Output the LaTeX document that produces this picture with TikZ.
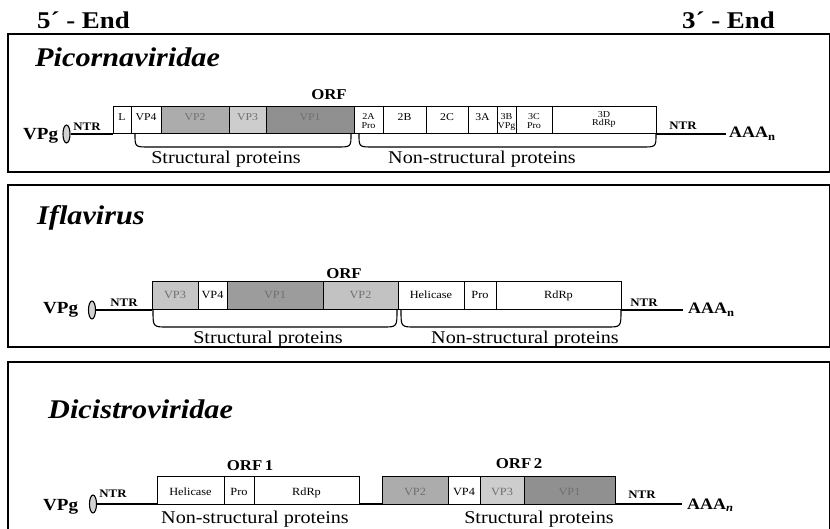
\documentclass[tikz,border=0pt]{standalone}
\usepackage{fontspec}
\setmainfont{Liberation Serif}[FakeStretch=1.12]
\usetikzlibrary{shapes.geometric}
\definecolor{gmed}{HTML}{ACACAC}
\definecolor{glight}{HTML}{CDCDCD}
\definecolor{gdark}{HTML}{909090}
\definecolor{ifa}{HTML}{C6C6C6}
\definecolor{ifb}{HTML}{9C9C9C}
\definecolor{ifc}{HTML}{C2C2C2}
\definecolor{faint}{HTML}{707070}
\newcommand\fs[1]{\fontsize{#1}{#1}\selectfont}
\newcommand\seg[6]{\node[segbox,fill=#6,minimum width={(#3-#2)*1pt},minimum height={(#5-#4)*1pt}] (#1) at ({(#2+#3)/2},{(#4+#5)/2}) {};}
\newcommand\lab[4]{\path (#1.north) ++(0,#2) node[#3,anchor=base] {#4};}
\newcommand\brc[4]{\draw[bracestyle] (#1,#3) .. controls (#1,#4) and (#1,#4) .. (#1+14,#4) -- (#2-14,#4) .. controls (#2,#4) and (#2,#4) .. (#2,#3);}
\begin{document}
\begin{tikzpicture}[x=1pt,y=-1pt,
  frame/.style={line width=1.4pt},
  rna/.style={line width=1.3pt},
  segbox/.style={draw,line width=1pt,inner sep=0pt,outer sep=0pt},
  bracestyle/.style={line width=1.1pt},
  oval/.style={draw,ellipse,line width=1.1pt,fill=gray!35,minimum width=7pt,minimum height=18pt,inner sep=0pt},
  hdr/.style={font=\fs{24}\bfseries,inner sep=0pt},
  ttl/.style={font=\fs{27}\bfseries\itshape,inner sep=0pt},
  orf/.style={font=\fs{15}\bfseries,inner sep=0pt},
  vpg/.style={font=\fs{17}\bfseries,inner sep=0pt},
  ntr/.style={font=\fs{11.5}\bfseries,inner sep=0pt},
  aaa/.style={font=\fs{16}\bfseries,inner sep=0pt},
  prot/.style={font=\fs{18}},
  lbl/.style={font=\fs{10.5},inner sep=0pt},
  lbls/.style={font=\fs{9},inner sep=0pt},
  lblf/.style={font=\fs{10.5},text=faint,inner sep=0pt},
  lblb/.style={font=\fs{11},inner sep=0pt},
  lblbf/.style={font=\fs{11},text=faint,inner sep=0pt}]
\useasboundingbox (0,0) rectangle (830,529);
\clip (0,0) rectangle (830,529);
\fill[white] (0,0) rectangle (830,529);

% headers
\node[hdr,anchor=base west] (h5) at (37,29) {5´ - End};
\node[hdr,anchor=base west] (h3) at (682,29) {3´ - End};

% panels
\draw[frame] (8,34) rectangle (829.5,172);
\draw[frame] (8,185) rectangle (829.5,347);
\draw[frame] (8,362) rectangle (829.5,545);

% ===== Picornaviridae =====
\node[ttl,anchor=base west] (t1) at (35,67) {Picornaviridae};
\node[vpg,anchor=base west] (v1) at (23,140) {VPg};
\node[oval] (o1) at (66.5,134) {};
\seg{pL}{113}{131}{107}{134}{white}
\seg{pVPiv}{131}{161}{107}{134}{white}
\seg{pVPii}{161}{229}{107}{134}{gmed}
\seg{pVPiii}{229}{266}{107}{134}{glight}
\seg{pVPi}{266}{354}{107}{134}{gdark}
\seg{p2A}{354}{383}{107}{134}{white}
\seg{p2B}{383}{426}{107}{134}{white}
\seg{p2C}{426}{468}{107}{134}{white}
\seg{p3A}{468}{497}{107}{134}{white}
\seg{p3B}{497}{516}{107}{134}{white}
\seg{p3C}{516}{552}{107}{134}{white}
\seg{p3D}{552}{656}{107}{134}{white}
\coordinate (pe) at (726,134);
\draw[rna] (o1.east) -- (pL.south west);
\draw[rna] (p3D.south east) -- (pe);
\lab{pL}{13.5}{lbl}{L}
\lab{pVPiv}{13.5}{lbl}{VP4}
\lab{pVPii}{13.5}{lblf}{VP2}
\lab{pVPiii}{13.5}{lblf}{VP3}
\lab{pVPi}{13.5}{lblf}{VP1}
\lab{p2A}{12.5}{lbls}{2A}
\lab{p2A}{21.5}{lbls}{Pro}
\lab{p2B}{13.5}{lbl}{2B}
\lab{p2C}{13.5}{lbl}{2C}
\lab{p3A}{13.5}{lbl}{3A}
\lab{p3B}{12.5}{lbls}{3B}
\lab{p3B}{21.5}{lbls}{VPg}
\lab{p3C}{12.5}{lbls}{3C}
\lab{p3C}{21.5}{lbls}{Pro}
\lab{p3D}{11}{lbls}{3D}
\lab{p3D}{18.5}{lbls}{RdRp}
\node[orf,anchor=base] (orf1) at (329,100) {ORF};
\node[ntr,anchor=base] (n1a) at (87,131) {NTR};
\node[ntr,anchor=base] (n1b) at (683,130) {NTR};
\node[aaa,anchor=base west] (a1) at (729,138) {AAA\textsubscript{n}};
\brc{135}{351}{134}{147}
\brc{359}{656}{134}{147}
\node[prot,anchor=base] (s1) at (226,164) {Structural proteins};
\node[prot,anchor=base] (ns1) at (482,164) {Non-structural proteins};

% ===== Iflavirus =====
\node[ttl,anchor=base west] (t2) at (37,225) {Iflavirus};
\node[vpg,anchor=base west] (v2) at (43,314) {VPg};
\node[oval] (o2) at (92,310) {};
\seg{iVPiii}{152}{198}{282}{310}{ifa}
\seg{iVPiv}{198}{227}{282}{310}{white}
\seg{iVPi}{227}{323}{282}{310}{ifb}
\seg{iVPii}{323}{398}{282}{310}{ifc}
\seg{iHel}{398}{464}{282}{310}{white}
\seg{iPro}{464}{496}{282}{310}{white}
\seg{iRdRp}{496}{621}{282}{310}{white}
\coordinate (ie) at (683,310);
\draw[rna] (o2.east) -- (iVPiii.south west);
\draw[rna] (iRdRp.south east) -- (ie);
\lab{iVPiii}{17}{lblbf}{VP3}
\lab{iVPiv}{17}{lblb}{VP4}
\lab{iVPi}{17}{lblbf}{VP1}
\lab{iVPii}{17}{lblbf}{VP2}
\lab{iHel}{17}{lblb}{Helicase}
\lab{iPro}{17}{lblb}{Pro}
\lab{iRdRp}{17}{lblb}{RdRp}
\node[orf,anchor=base] (orf2) at (344,279) {ORF};
\node[ntr,anchor=base] (n2a) at (124,307) {NTR};
\node[ntr,anchor=base] (n2b) at (644,307) {NTR};
\node[aaa,anchor=base west] (a2) at (688,314) {AAA\textsubscript{n}};
\brc{153}{397}{310}{327}
\brc{401}{621}{310}{327}
\node[prot,anchor=base] (s2) at (268,343) {Structural proteins};
\node[prot,anchor=base] (ns2) at (525,343) {Non-structural proteins};

% ===== Dicistroviridae =====
\node[ttl,anchor=base west] (t3) at (48,418) {Dicistroviridae};
\node[vpg,anchor=base west] (v3) at (43,510) {VPg};
\node[oval] (o3) at (93,504) {};
\seg{dHel}{157}{224}{476}{504}{white}
\seg{dPro}{224}{254}{476}{504}{white}
\seg{dRdRp}{254}{359}{476}{504}{white}
\seg{dVPii}{382}{448}{476}{504}{gmed}
\seg{dVPiv}{448}{480}{476}{504}{white}
\seg{dVPiii}{480}{524}{476}{504}{glight}
\seg{dVPi}{524}{615}{476}{504}{gdark}
\coordinate (de) at (682,504);
\draw[rna] (o3.east) -- (dHel.south west);
\draw[rna] (dRdRp.south east) -- (dVPii.south west);
\draw[rna] (dVPi.south east) -- (de);
\lab{dHel}{19}{lblb}{Helicase}
\lab{dPro}{19}{lblb}{Pro}
\lab{dRdRp}{19}{lblb}{RdRp}
\lab{dVPii}{19}{lblbf}{VP2}
\lab{dVPiv}{19}{lblb}{VP4}
\lab{dVPiii}{19}{lblbf}{VP3}
\lab{dVPi}{19}{lblbf}{VP1}
\node[orf,anchor=base] (orf3a) at (250,470) {ORF\,1};
\node[orf,anchor=base] (orf3b) at (519,468) {ORF\,2};
\node[ntr,anchor=base] (n3a) at (113,497) {NTR};
\node[ntr,anchor=base] (n3b) at (642,498) {NTR};
\node[aaa,anchor=base west] (a3) at (687,509) {AAA\textsubscript{\textit{n}}};
\node[prot,anchor=base] (ns3) at (255,523) {Non-structural proteins};
\node[prot,anchor=base] (s3) at (539,523) {Structural proteins};
\end{tikzpicture}
\end{document}
